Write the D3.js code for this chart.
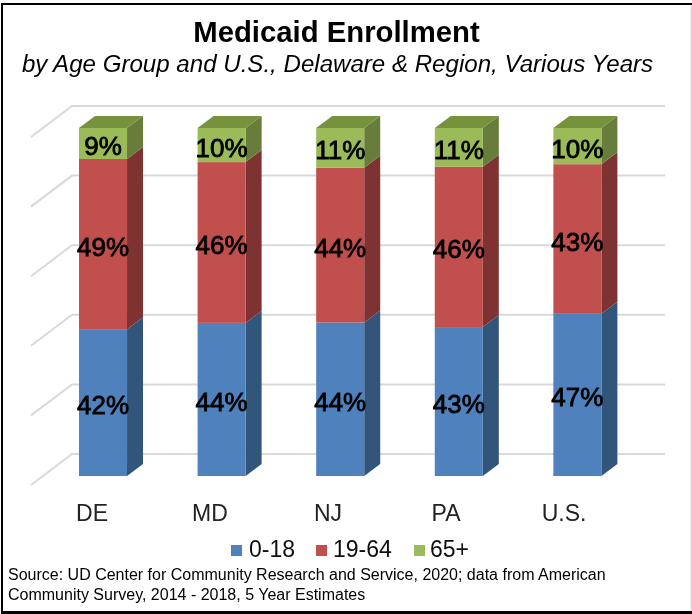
<!DOCTYPE html>
<html><head><meta charset="utf-8">
<script src="https://d3js.org/d3.v7.min.js"></script>
<style>html,body{margin:0;padding:0;background:#fff}svg{display:block}text{font-family:"Liberation Sans",Arial,sans-serif}</style>
</head><body><div id="c"></div>
<script>
const categories = ["DE","MD","NJ","PA","U.S."];
const seriesNames = ["0-18","19-64","65+"];
const v018 = [42.2,44.0,44.1,42.8,46.6];
const v1964 = [48.9,46.2,44.5,46.1,43.0];
const v65 = [8.9,9.8,11.4,11.1,10.4];
const labels018 = [42,44,44,43,47];
const labels1964 = [49,46,44,46,43];
const labels65 = [9,10,11,11,10];
const gridTicks = [0,20,40,60,80,100];
const title = "Medicaid Enrollment";
const subtitle = "by Age Group and U.S., Delaware & Region, Various Years";
const source = ["Source: UD Center for Community Research and Service, 2020; data from American","Community Survey, 2014 - 2018, 5 Year Estimates"];

const W=692,H=614;
const svg=d3.select("#c").append("svg").attr("width",W).attr("height",H);
const defs=svg.append("defs");
defs.append("filter").attr("id","soft").attr("x","-5%").attr("y","-5%").attr("width","110%").attr("height","110%")
  .append("feGaussianBlur").attr("stdDeviation",0.45);
svg.append("rect").attr("width",W).attr("height",H).attr("fill","#fff");
const root=svg.append("g").attr("filter","url(#soft)");

const y=d3.scaleLinear().domain([0,100]).range([476,128]);
const x=d3.scaleBand().domain(categories).range([79,601.4]).paddingInner(0.595).paddingOuter(0);
const rows=categories.map((c,i)=>({c,"0-18":v018[i],"19-64":v1964[i],"65+":v65[i]}));
const stack=d3.stack().keys(seriesNames)(rows);
const labelSets=[labels018,labels1964,labels65];
const front=["#4f81bd","#c0504d","#9bbb59"];
const side=["#33557c","#7e3331","#677d3a"];
const topFace="#76923c";
const depth={dx:16,dy:-12};

// frame: heavy top, left and bottom rules, faint right edge
root.append("rect").attr("x",690.5).attr("y",3).attr("width",1.5).attr("height",608).attr("fill","#d9d9d9");
root.append("rect").attr("x",1).attr("y",3).attr("width",691).attr("height",2).attr("fill","#000");
root.append("rect").attr("x",1).attr("y",3).attr("width",2).attr("height",610).attr("fill","#000");
root.append("rect").attr("x",1).attr("y",611).attr("width",691).attr("height",3).attr("fill","#000");

// gridlines
const grid=root.append("g").attr("stroke","#d9d9d9").attr("stroke-width",2).attr("fill","none");
gridTicks.forEach(t=>{
  const yy=y(t);
  grid.append("path").attr("d",d3.line()([[31,yy+9],[72,yy-22],[665,yy-22]]));
});

// bars
categories.forEach((c,i)=>{
  const bx=x(c),bw=x.bandwidth();
  const g=root.append("g");
  stack.forEach((s,k)=>{
    const [a,b]=s[i];
    const y0=y(a),y1=y(b);
    g.append("path").attr("fill",side[k]).attr("d",d3.line()([[bx+bw,y0],[bx+bw+depth.dx,y0+depth.dy],[bx+bw+depth.dx,y1+depth.dy],[bx+bw,y1]])+"Z");
    g.append("rect").attr("x",bx).attr("y",y1).attr("width",bw).attr("height",y0-y1).attr("fill",front[k]);
    if(k===2){
      g.append("path").attr("fill",topFace).attr("d",d3.line()([[bx,y1],[bx+depth.dx,y1+depth.dy],[bx+bw+depth.dx,y1+depth.dy],[bx+bw,y1]])+"Z");
    }
  });
});
// data labels
categories.forEach((c,i)=>{
  const bx=x(c),bw=x.bandwidth();
  stack.forEach((s,k)=>{
    const [a,b]=s[i];
    root.append("text").attr("x",bx+bw/2).attr("y",(y(a)+y(b))/2+11.5)
      .attr("text-anchor","middle").attr("font-size",26).attr("fill","#000")
      .attr("stroke","#000").attr("stroke-width",0.8)
      .text(labelSets[k][i]+"%");
  });
});
// category labels
const xa=d3.scaleBand().domain(categories).range([33,623]);
categories.forEach(c=>{
  root.append("text").attr("x",xa(c)+xa.bandwidth()/2).attr("y",520.5).attr("text-anchor","middle")
    .attr("font-size",23).attr("fill","#222").text(c);
});
// legend
const legSq=[231,316,414], legTx=[249,333,430];
seriesNames.forEach((n,k)=>{
  root.append("rect").attr("x",legSq[k]).attr("y",545).attr("width",11).attr("height",11).attr("fill",front[k]);
  root.append("text").attr("x",legTx[k]).attr("y",557).attr("font-size",23).attr("fill","#111").text(n);
});
// titles
root.append("text").attr("x",336.5).attr("y",42).attr("text-anchor","middle").attr("font-size",29.3).attr("font-weight","bold").attr("fill","#000").text(title);
root.append("text").attr("x",337.5).attr("y",72).attr("text-anchor","middle").attr("font-size",24.1).attr("font-style","italic").attr("fill","#000").text(subtitle);
// source
source.forEach((s,i)=>{
  root.append("text").attr("x",8).attr("y",580+i*20).attr("font-size",16).attr("fill","#000").text(s);
});
</script></body></html>
